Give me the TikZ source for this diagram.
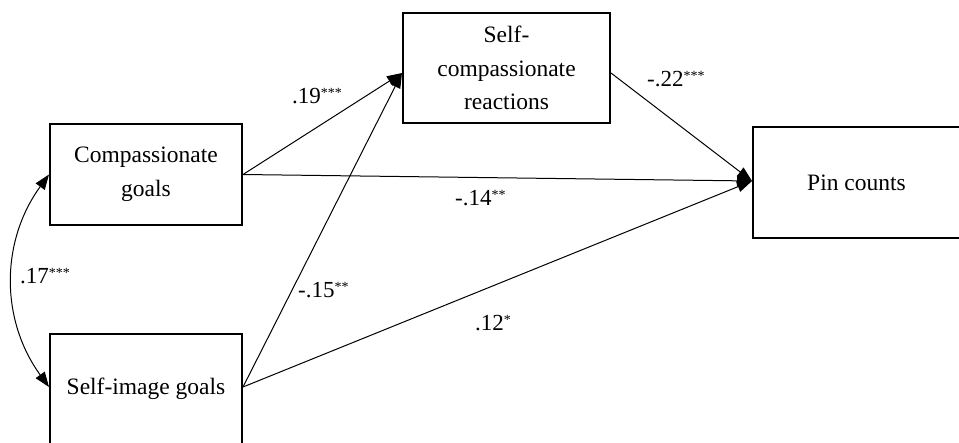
\documentclass[tikz,border=0pt]{standalone}
\usepackage{fontspec}
\setmainfont{Liberation Serif}
\usetikzlibrary{arrows.meta}
\newcommand\sigstars[1]{\raisebox{6pt}{\fontsize{14}{14}\selectfont #1}}
\tikzset{
  box/.style={draw=black, line width=2pt, rectangle, align=center, inner sep=2pt,
    font=\fontsize{23.5}{33.5}\selectfont},
  path/.style={line width=1pt, -{Triangle[length=15pt,width=11pt]}},
  coef/.style={anchor=base west, inner sep=0pt, font=\fontsize{23}{28}\selectfont}
}
\begin{document}
\begin{tikzpicture}[x=1pt,y=-1pt]
\useasboundingbox (0,0) rectangle (959,442);
\clip (0,0) rectangle (959,442);
\node[box, minimum width=192pt, minimum height=101pt] (cg) at (146,174.5) {Compassionate\\goals};
\node[box, minimum width=192pt, minimum height=110pt] (si) at (146,389) {Self-image goals};
\node[box, minimum width=207pt, minimum height=110pt] (sc) at (506.5,68) {Self-\\compassionate\\reactions};
\node[box, minimum width=207pt, minimum height=111pt] (pc) at (856.5,182.5) {Pin counts};
\coordinate (scin) at ([yshift=-5pt]sc.west);
\coordinate (scout) at ([yshift=-5pt]sc.east);
\coordinate (pcin) at ([yshift=1.5pt]pc.west);
\coordinate (siout) at ([yshift=2pt]si.east);
\draw[path] (cg.east) -- (scin);
\draw[path] (siout) -- (scin);
\draw[path] (cg.east) -- (pcin);
\draw[path] (siout) -- (pcin);
\draw[path] (scout) -- (pcin);
\draw[line width=1pt, {Triangle[length=15pt,width=11pt]}-{Triangle[length=15pt,width=11pt]}]
  (cg.west) to[bend right=36] (siout -| si.west);
\node[coef] (l19) at (292,103) {.19\sigstars{***}};
\node[coef] (l22) at (647,86) {-.22\sigstars{***}};
\node[coef] (l14) at (455,205) {-.14\sigstars{**}};
\node[coef] (l17) at (20,283) {.17\sigstars{***}};
\node[coef] (l15) at (298,297) {-.15\sigstars{**}};
\node[coef] (l12) at (475,330) {.12\sigstars{*}};
\end{tikzpicture}
\end{document}
